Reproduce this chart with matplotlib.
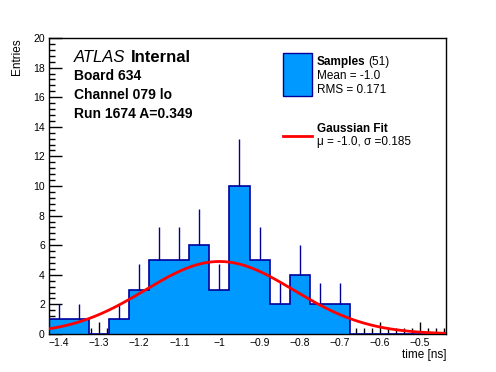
import matplotlib
matplotlib.use("Agg")
import matplotlib.pyplot as plt
import numpy as np
from matplotlib.ticker import MultipleLocator

plt.rcParams["font.family"] = ["Liberation Sans", "DejaVu Sans"]

# histogram: 20 bins of 0.05 ns from -1.425 to -0.425
bin_lo = -1.425
bin_w = 0.05
counts = [1, 1, 0, 1, 3, 5, 5, 6, 3, 10, 5, 2, 4, 2, 2, 0, 0, 0, 0, 0]

# gaussian fit
fit_amp = 4.9
fit_mu = -1.0
fit_sigma = 0.185

fill_col = "#0099ff"
edge_col = "#000099"

W, H = 496, 372
fig = plt.figure(figsize=(W / 100, H / 100), dpi=100)
ax = fig.add_axes([49 / W, (H - 334) / H, (446 - 49) / W, (334 - 38) / H])
renderer = fig.canvas.get_renderer()


def px_text(x, y, s, **kw):
    # place text at pixel coords (y from top), return right edge in px
    t = fig.text(x / W, 1 - y / H, s, va="center", **kw)
    bb = t.get_window_extent(renderer)
    return bb.x1


counts = np.array(counts, dtype=float)
edges = bin_lo + bin_w * np.arange(len(counts) + 1)
centers = 0.5 * (edges[:-1] + edges[1:])

ax.stairs(counts, edges, fill=True, color=fill_col, zorder=2)
ax.stairs(counts, edges, color=edge_col, lw=1.2, zorder=3)
nz = counts > 0
ax.vlines(centers[nz], counts[nz], counts[nz] + np.sqrt(counts[nz]),
          color=edge_col, lw=1.0, zorder=3)

xmax = edges[-1] - 0.01
xs = np.linspace(edges[0], xmax, 400)
ax.plot(xs, fit_amp * np.exp(-0.5 * ((xs - fit_mu) / fit_sigma) ** 2),
        color="red", lw=2, zorder=4)

ax.set_xlim(edges[0], xmax)
ax.set_ylim(0, 20)
ax.xaxis.set_minor_locator(MultipleLocator(0.02))
ax.yaxis.set_major_locator(MultipleLocator(2))
ax.yaxis.set_minor_locator(MultipleLocator(0.4))
ax.tick_params(which="both", direction="in", top=False, right=False,
               labelsize=7.5, width=1)
ax.tick_params(which="major", length=9, pad=3)
ax.tick_params(which="minor", length=4.5)
ax.set_xticks(np.round(np.arange(-1.4, -0.45, 0.1), 2))
ax.set_xticklabels(["\u22121.4", "\u22121.3", "\u22121.2", "\u22121.1", "\u22121",
                    "\u22120.9", "\u22120.8", "\u22120.7", "\u22120.6", "\u22120.5"])
for s in ax.spines.values():
    s.set_linewidth(1)

fig.text(446 / W, 1 - 355 / H, "time [ns]", ha="right", va="center", fontsize=8.5)
fig.text(17 / W, 1 - 38 / H, "Entries", ha="center", va="top", rotation=90, fontsize=8.5)

# ATLAS label block
x1 = px_text(74, 57, "ATLAS", style="italic", fontsize=12)
px_text(x1 + 5, 57, "Internal", weight="bold", fontsize=12)
info = ["Board 634", "Channel 079 lo", "Run 1674 A=0.349"]
for i, t in enumerate(info):
    px_text(74, 76.5 + 18.7 * i, t, weight="bold", fontsize=10)

# legend
fig.patches.append(plt.Rectangle((283 / W, 1 - 96 / H), 29 / W, 43 / H,
                                 transform=fig.transFigure, facecolor=fill_col,
                                 edgecolor=edge_col, lw=1))
x1 = px_text(317, 61.5, "Samples", weight="bold", fontsize=8.5)
px_text(x1 + 2.5, 61.5, "(51)", fontsize=8.5)
px_text(317, 76, "Mean = -1.0", fontsize=8.5)
px_text(317, 90, "RMS = 0.171", fontsize=8.5)
fig.lines.append(plt.Line2D([283 / W, 312 / W], [1 - 136 / H, 1 - 136 / H],
                            transform=fig.transFigure, color="red", lw=2))
px_text(317, 129, "Gaussian Fit", weight="bold", fontsize=8.5)
px_text(317, 141.5, "\u03bc = -1.0, \u03c3 =0.185", fontsize=8.5)

fig.savefig("out.png", dpi=100)
